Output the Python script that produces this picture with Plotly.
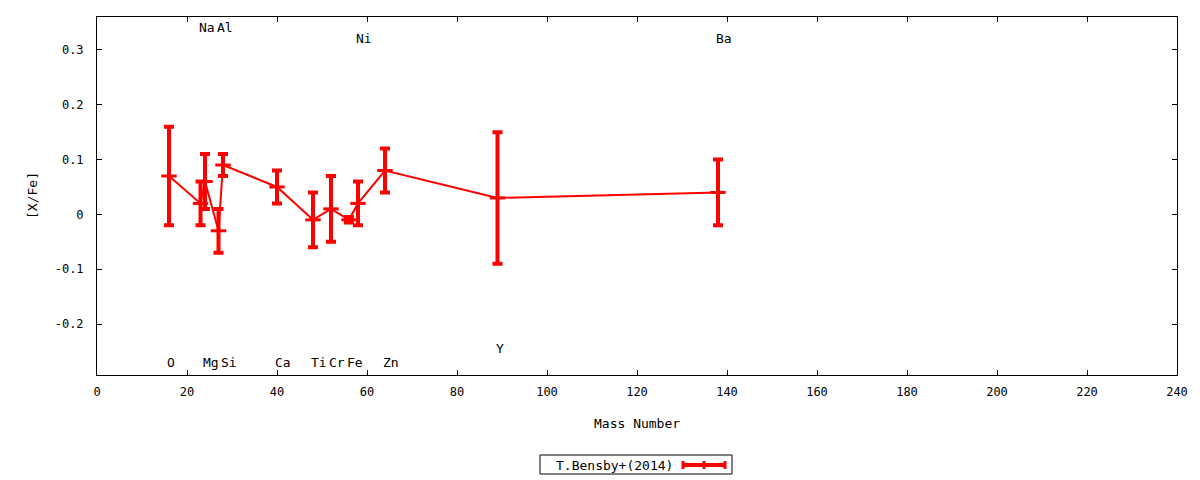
import plotly.graph_objects as go

# abundance pattern, T.Bensby+(2014)
elements = ["O", "Na", "Mg", "Al", "Si", "Ca", "Ti", "Cr", "Fe", "Ni", "Zn", "Y", "Ba"]
mass_number = [16, 23, 24, 27, 28, 40, 48, 52, 56, 58, 64, 89, 138]
x_fe = [0.07, 0.02, 0.06, -0.03, 0.09, 0.05, -0.01, 0.01, -0.01, 0.02, 0.08, 0.03, 0.04]
x_fe_err = [0.09, 0.04, 0.05, 0.04, 0.02, 0.03, 0.05, 0.06, 0.005, 0.04, 0.04, 0.12, 0.06]
label_y = [-0.27, 0.34, -0.27, 0.34, -0.27, -0.27, -0.27, -0.27, -0.27, 0.32, -0.27, -0.245, 0.32]

x_ticks = list(range(0, 241, 20))
y_ticks = [-0.2, -0.1, 0, 0.1, 0.2, 0.3]
y_tick_text = ["-0.2", "-0.1", "0", "0.1", "0.2", "0.3"]

FONT = "DejaVu Sans Mono"
RED = "#ff0000"

# plot area in window pixels (page body has an 8px margin)
L, R, T, B = 97, 1177, 17, 375
OFF = 8


def px(xp, yp):
    return (xp - L) / (R - L), (B - yp) / (B - T)


fig = go.Figure()
fig.add_trace(go.Scatter(
    x=mass_number, y=x_fe, mode="lines+markers", name="T.Bensby+(2014)",
    line=dict(color=RED, width=2),
    marker=dict(symbol="line-ew", size=11, color=RED, line=dict(color=RED, width=3)),
    error_y=dict(type="data", array=x_fe_err, color=RED, thickness=4, width=5),
    showlegend=False,
))

for el, m, ly in zip(elements, mass_number, label_y):
    fig.add_annotation(x=m, y=ly, text=el, showarrow=False, xanchor="left", xshift=-4,
                       font=dict(family=FONT, size=13, color="black"))

# axis titles
ax, ay = px(637, 424)
fig.add_annotation(xref="paper", yref="paper", x=ax, y=ay, text="Mass Number", showarrow=False,
                   xanchor="center", yanchor="middle",
                   font=dict(family=FONT, size=13, color="black"))
ax, ay = px(32, 196)
fig.add_annotation(xref="paper", yref="paper", x=ax, y=ay, text="[X/Fe]", showarrow=False,
                   xanchor="center", yanchor="middle", textangle=-90,
                   font=dict(family=FONT, size=13, color="black"))

# key box drawn like gnuplot's: text first, sample after
x0, y0 = px(540, 455)
x1, y1 = px(732, 474)
fig.add_shape(type="rect", xref="paper", yref="paper", x0=x0, y0=y0, x1=x1, y1=y1,
              line=dict(color="black", width=1))
tx, ty = px(554, 465)
fig.add_annotation(xref="paper", yref="paper", x=tx, y=ty, text="T.Bensby+(2014)",
                   showarrow=False, xanchor="left", yanchor="middle",
                   font=dict(family=FONT, size=13, color="black"))
sa, sy = px(683, 465)
sb, _ = px(725, 465)
sm, _ = px(704, 465)
_, cu = px(0, 461)
_, cd = px(0, 469)
fig.add_shape(type="line", xref="paper", yref="paper", x0=sa, x1=sb, y0=sy, y1=sy,
              line=dict(color=RED, width=4))
for cx in (sa, sm, sb):
    fig.add_shape(type="line", xref="paper", yref="paper", x0=cx, x1=cx, y0=cd, y1=cu,
                  line=dict(color=RED, width=3))

fig.update_layout(
    width=1200 - OFF, height=480 - OFF,
    margin=dict(l=L - OFF, r=1200 - R, t=T - OFF, b=480 - B),
    paper_bgcolor="white", plot_bgcolor="white",
    font=dict(family=FONT, size=12, color="black"),
)
fig.update_xaxes(
    range=[0, 240], tickvals=x_ticks, ticks="inside", ticklen=5, tickcolor="black",
    showline=True, linecolor="black", linewidth=1, mirror="ticks",
    showgrid=False, zeroline=False, ticklabelstandoff=6, automargin=False,
)
fig.update_yaxes(
    range=[-0.293, 0.36], tickvals=y_ticks, ticktext=y_tick_text, ticks="inside",
    ticklen=5, tickcolor="black",
    showline=True, linecolor="black", linewidth=1, mirror="ticks",
    showgrid=False, zeroline=False, ticklabelstandoff=10, automargin=False,
)

fig.write_html("out.html")
